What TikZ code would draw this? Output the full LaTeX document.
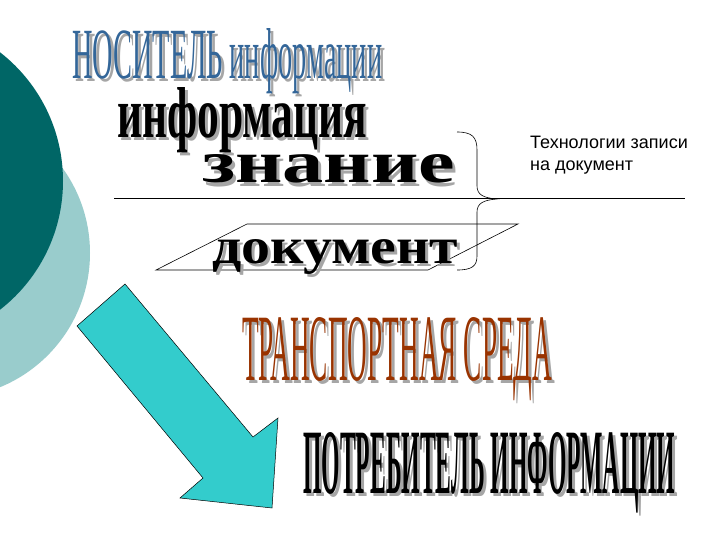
\documentclass[tikz,border=0pt]{standalone}
\usepackage{fontspec}
\usepackage{graphicx}
\newfontfamily\artserif{Liberation Serif}
\newfontfamily\notesans{Liberation Sans}
\definecolor{darkteal}{RGB}{0,102,102}
\definecolor{paleteal}{RGB}{153,204,204}
\definecolor{arrowcyan}{RGB}{51,204,204}
\definecolor{titleblue}{RGB}{51,102,153}
\definecolor{mediabrown}{RGB}{153,51,0}
\tikzset{
  art/.style={inner sep=0pt, anchor=base west},
}
\def\artword(#1)[#2](#3)(#4:#5)#6{%
  \node[art, text=#2] (#1) at (#3) {\makebox[0pt][l]{\hspace{3pt}\raisebox{-3pt}{\color{black!35}\resizebox{#4pt}{#5pt}{#6}}}\resizebox{#4pt}{#5pt}{#6}};}

\begin{document}
\begin{tikzpicture}[x=1pt,y=-1pt]
			%%%%% BACKGROUND %%%%%
			\clip (0,0) rectangle (720,540);
			\fill[white] (0,0) rectangle (720,540);
			
			\fill[paleteal] (-55,253) circle (145pt);
			\fill[darkteal] (-100,181) circle (163pt);
			
			\draw[fill=arrowcyan, line width=0.5pt] (125,284) -- (253,437) -- (278,418) -- (272,508) -- (180,498) -- (203,478) -- (77,326) -- cycle;
			
			%%%%% LINES %%%%%
			\draw[line width=0.8pt] (114,198) -- (685,198);
			\draw[line width=0.6pt] (156,270) -- (247,224) -- (518,224) -- (428,270) -- cycle;
			\draw[line width=0.6pt] (457,132) .. controls (472,132) and (477,137) .. (477,150) -- (477,186)
				.. controls (477,195) and (484,198) .. (497,199)
				.. controls (484,200) and (477,203) .. (477,212) -- (477,256)
				.. controls (477,266) and (472,270) .. (457,270);
			
			%%%%% WORDS %%%%%
			\artword(carrier)[titleblue](72,79)(310:50){\artserif НОСИТЕЛЬ информации}
			\artword(info)[black](117,138)(250:50){\artserif\bfseries информация}
			\artword(knowledge)[black](202,183)(253:28){\artserif\bfseries знание}
			\artword(document)[black](212,263)(246:24){\artserif\bfseries документ}
			\artword(medium)[mediabrown](242,380)(310:63){\artserif ТРАНСПОРТНАЯ СРЕДА}
			\artword(consumer)[black](303,493)(372:61){\artserif\bfseries ПОТРЕБИТЕЛЬ ИНФОРМАЦИИ}
			
			\node[anchor=base west, inner sep=0pt, align=left, font=\notesans\fontsize{18}{22}\selectfont] (note) at (530,171) {Технологии записи\\на документ};
\end{tikzpicture}
\end{document}
